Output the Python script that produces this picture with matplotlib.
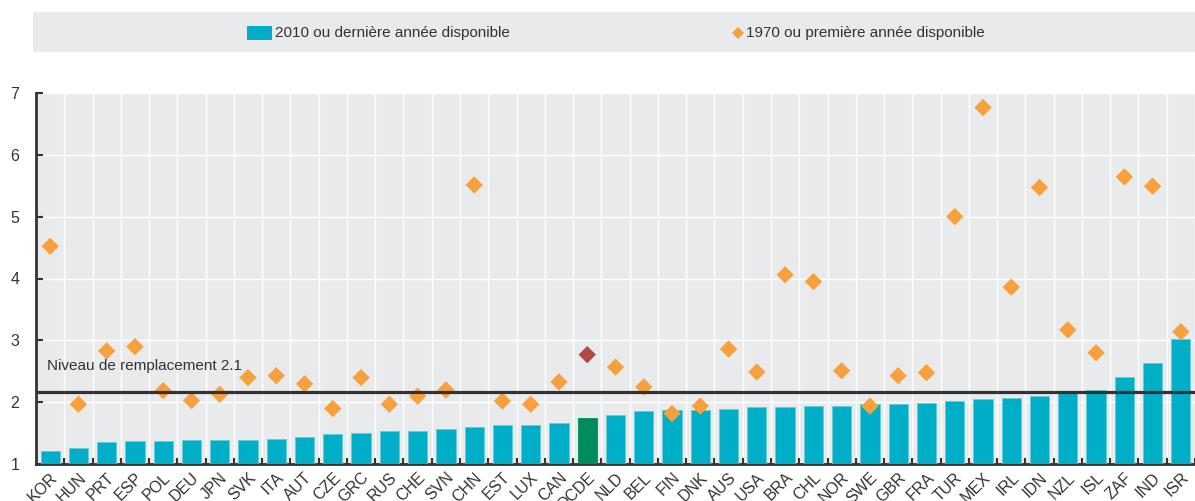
import numpy as np
import matplotlib
matplotlib.use('Agg')
import matplotlib.pyplot as plt
from matplotlib.patches import Rectangle
from matplotlib.lines import Line2D

plt.rcParams['font.family'] = ['Liberation Sans', 'DejaVu Sans']

countries = ['KOR', 'HUN', 'PRT', 'ESP', 'POL', 'DEU', 'JPN', 'SVK', 'ITA', 'AUT',
             'CZE', 'GRC', 'RUS', 'CHE', 'SVN', 'CHN', 'EST', 'LUX', 'CAN', 'OCDE',
             'NLD', 'BEL', 'FIN', 'DNK', 'AUS', 'USA', 'BRA', 'CHL', 'NOR', 'SWE',
             'GBR', 'FRA', 'TUR', 'MEX', 'IRL', 'IDN', 'NZL', 'ISL', 'ZAF', 'IND', 'ISR']
val_2010 = [1.22, 1.26, 1.36, 1.38, 1.38, 1.39, 1.39, 1.40, 1.41, 1.44,
            1.49, 1.51, 1.53, 1.54, 1.57, 1.60, 1.63, 1.63, 1.67, 1.75,
            1.79, 1.86, 1.87, 1.88, 1.89, 1.93, 1.93, 1.94, 1.94, 1.98,
            1.98, 1.99, 2.03, 2.05, 2.07, 2.11, 2.16, 2.20, 2.41, 2.64, 3.03]
val_1970 = [4.52, 1.97, 2.83, 2.90, 2.19, 2.03, 2.13, 2.40, 2.43, 2.30,
            1.90, 2.40, 1.97, 2.10, 2.20, 5.51, 2.02, 1.97, 2.33, 2.77,
            2.57, 2.25, 1.82, 1.94, 2.86, 2.49, 4.06, 3.95, 2.51, 1.94,
            2.43, 2.48, 5.00, 6.76, 3.86, 5.47, 3.17, 2.80, 5.64, 5.49, 3.14]
replacement = 2.17

teal = '#00aec7'
green = '#008c5a'
orange = '#f7a13c'
darkred = '#b04a42'
bg = '#e9eaec'
dark = '#333333'
fs = 11

fig = plt.figure(figsize=(11.95, 5.01), dpi=100)
ax = fig.add_axes([36 / 1195, 1 - 464.3 / 501, 1 - 36 / 1195, (464.3 - 92.7) / 501])
ax.set_facecolor(bg)

x = np.arange(len(countries))
bar_colors = [green if c == 'OCDE' else teal for c in countries]
ax.bar(x, np.array(val_2010) - 1, bottom=1, width=0.68, color=bar_colors,
       edgecolor=['#008c5a' if c == 'OCDE' else '#66cbd9' for c in countries],
       linewidth=0.6, zorder=3)
dia_colors = [darkred if c == 'OCDE' else orange for c in countries]
ax.scatter(x, val_1970, marker='D', s=78, c=dia_colors, linewidths=0, zorder=4)

ax.axhline(replacement, color=dark, lw=2.3, zorder=5)
ax.text(-0.12, 2.52, 'Niveau de remplacement 2.1', fontsize=fs, color=dark,
        va='baseline', ha='left', zorder=6)

ax.set_xlim(-0.5, len(countries) - 0.5)
ax.set_ylim(1, 7)
ax.set_yticks(range(1, 8))
ax.set_xticks(x + 0.5, minor=False)
ax.set_xticks(x, minor=True)
ax.set_xticklabels([])
ax.set_xticklabels(countries, minor=True, rotation=45, ha='right', va='top',
                   rotation_mode='anchor', fontsize=fs + 0.5, color=dark)
ax.tick_params(axis='x', which='major', direction='in', length=4, width=1.5, color=dark)
ax.tick_params(axis='x', which='minor', length=0, pad=4)
ax.tick_params(axis='y', direction='in', length=5, width=1.5, color=dark,
               labelsize=fs + 0.5, labelcolor=dark, pad=12)
ax.grid(True, which='major', color='white', lw=1, zorder=0)
ax.set_axisbelow(True)
for s in ['top', 'right']:
    ax.spines[s].set_visible(False)
for s in ['left', 'bottom']:
    ax.spines[s].set_color(dark)
    ax.spines[s].set_linewidth(2)

# legend band
fig.patches.append(Rectangle((33 / 1195, 1 - 52 / 501), 1 - 33 / 1195, 40 / 501,
                             transform=fig.transFigure, facecolor=bg, edgecolor='none'))
fig.patches.append(Rectangle((247 / 1195, 1 - 39.5 / 501), 25 / 1195, 13.5 / 501,
                             transform=fig.transFigure, facecolor=teal, edgecolor='none'))
fig.text(275 / 1195, 1 - 32.5 / 501, '2010 ou dernière année disponible',
         fontsize=fs, color=dark, va='center', ha='left')
fig.lines.append(Line2D([738 / 1195], [1 - 32.5 / 501], transform=fig.transFigure,
                        marker='D', markersize=6, color=orange, markeredgewidth=0))
fig.text(746 / 1195, 1 - 32.5 / 501, '1970 ou première année disponible',
         fontsize=fs, color=dark, va='center', ha='left')

fig.savefig('out.png', dpi=100)
